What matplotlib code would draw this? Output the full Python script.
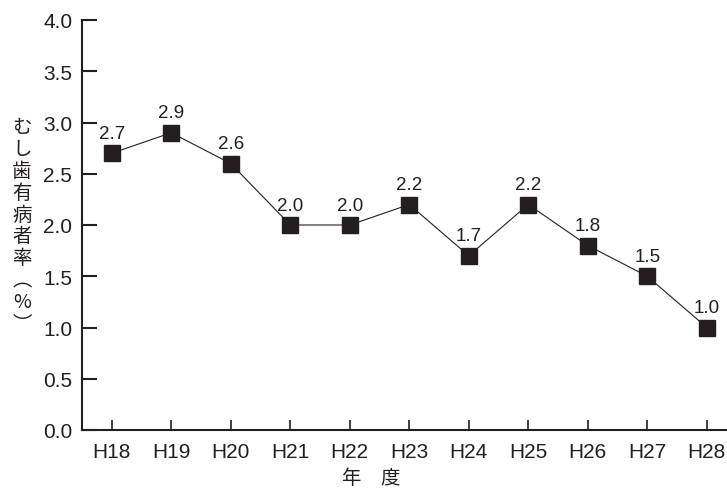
import matplotlib
matplotlib.use('Agg')
import matplotlib.pyplot as plt

plt.rcParams['font.family'] = ['Liberation Sans', 'Noto Sans CJK JP', 'DejaVu Sans']

years = ['H18', 'H19', 'H20', 'H21', 'H22', 'H23', 'H24', 'H25', 'H26', 'H27', 'H28']
rate = [2.7, 2.9, 2.6, 2.0, 2.0, 2.2, 1.7, 2.2, 1.8, 1.5, 1.0]
yticks = [0.0, 0.5, 1.0, 1.5, 2.0, 2.5, 3.0, 3.5, 4.0]

ink = '#231f20'

fig = plt.figure(figsize=(7.27, 4.89), dpi=100)
ax = fig.add_axes([82 / 727, 1 - 431 / 489, 1 - 82 / 727, (431 - 21) / 489])

x = list(range(len(years)))
ax.plot(x, rate, color=ink, linewidth=0.8, marker='s', markersize=12,
        markerfacecolor=ink, markeredgecolor=ink)
for xi, v in zip(x, rate):
    ax.annotate(f'{v:.1f}', (xi, v), xytext=(0, 11), textcoords='offset points',
                ha='center', va='baseline', fontsize=13.5, color=ink)

ax.set_xlim(-0.5, 10.34)
ax.set_ylim(0, 4.0)
ax.set_xticks(x)
ax.set_xticklabels(years)
ax.set_yticks(yticks)
ax.set_yticklabels([f'{t:.1f}' for t in yticks])

for s in ['top', 'right']:
    ax.spines[s].set_visible(False)
for s in ['left', 'bottom']:
    ax.spines[s].set_linewidth(1.5)
    ax.spines[s].set_color(ink)

ax.tick_params(axis='y', direction='in', length=11, width=1.5, pad=7,
               labelsize=15, colors=ink)
ax.tick_params(axis='x', direction='in', length=7, width=1.2, pad=9,
               labelsize=15, colors=ink)
ax.set_clip_on(False)

# 縦書きの軸ラベル
fig.text(22 / 727, 1 - 226 / 489, 'む\nし\n歯\n有\n病\n者\n率\n︵\n%\n︶',
         ha='center', va='center', fontsize=14, color=ink, linespacing=1.05,
         family=['Noto Sans CJK JP', 'DejaVu Sans'])
fig.text(371 / 727, 1 - 479 / 489, '年　度', ha='center', va='center',
         fontsize=14, color=ink, family=['Noto Sans CJK JP', 'DejaVu Sans'])

fig.savefig('out.png', dpi=100)
